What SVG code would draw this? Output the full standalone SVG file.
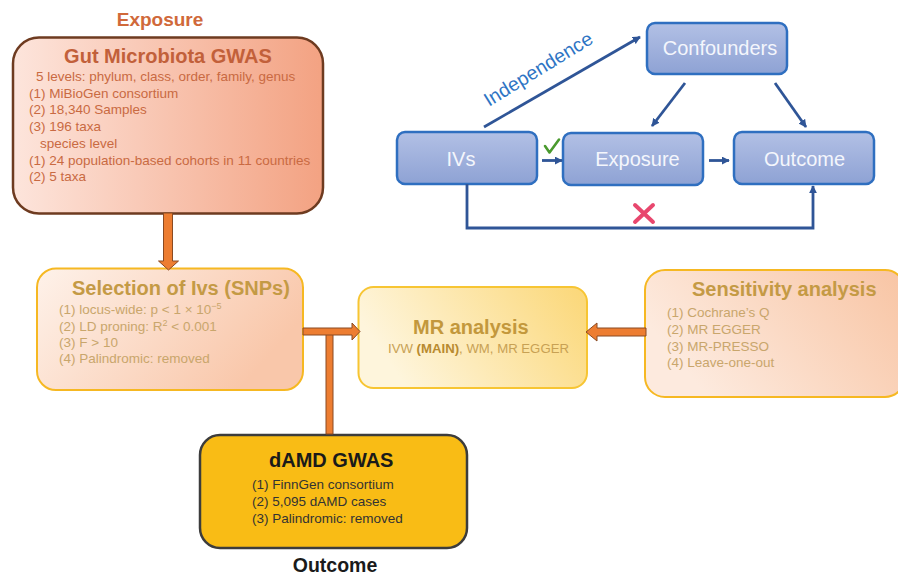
<svg xmlns="http://www.w3.org/2000/svg" width="898" height="576" viewBox="0 0 898 576">
  <defs>
    <linearGradient id="gGut" x1="0" y1="0" x2="1" y2="0">
      <stop offset="0" stop-color="#fde5dc"/>
      <stop offset="1" stop-color="#f3a282"/>
    </linearGradient>
    <linearGradient id="gSel" x1="0" y1="0" x2="1" y2="0.4">
      <stop offset="0" stop-color="#fef2ea"/>
      <stop offset="1" stop-color="#f9c7aa"/>
    </linearGradient>
    <linearGradient id="gMR" x1="0" y1="0.3" x2="1" y2="0">
      <stop offset="0" stop-color="#fef5dc"/>
      <stop offset="1" stop-color="#fbd777"/>
    </linearGradient>
    <linearGradient id="gSens" x1="0" y1="0.4" x2="1" y2="0">
      <stop offset="0" stop-color="#fdeade"/>
      <stop offset="1" stop-color="#f8c4a3"/>
    </linearGradient>
    <linearGradient id="gBlue" x1="0" y1="0" x2="0" y2="1">
      <stop offset="0" stop-color="#b2c0e5"/>
      <stop offset="1" stop-color="#8ea2d4"/>
    </linearGradient>
    <marker id="ah" viewBox="0 0 10 10" refX="9" refY="5" markerWidth="8" markerHeight="8" markerUnits="userSpaceOnUse" orient="auto">
      <path d="M0,0 L10,5 L0,10 z" fill="#2f5597"/>
    </marker>
    <style>
      .sans { font-family: "Liberation Sans", Arial, sans-serif; }
      .blk { fill: #ed7d31; stroke: #8a4a22; stroke-width: 1; }
      .ln { fill: none; stroke: #2f5597; stroke-width: 2.8; marker-end: url(#ah); }
      .bbox { fill: url(#gBlue); stroke: #2f6fc0; stroke-width: 2.5; }
      .btxt { font-size: 20px; fill: #f4f6fc; }
      .item { font-size: 13.5px; }
      .ttl { font-size: 20px; font-weight: bold; }
      .gut { fill: #c96a42; }
      .gutt { fill: #c2603a; }
      .gold { fill: #c49a45; }
      .goldi { fill: #c9a66c; }
    </style>
  </defs>

  <!-- left-hand flow -->
  <text class="sans" x="160" y="26" text-anchor="middle" font-size="19" font-weight="bold" fill="#d0693a">Exposure</text>

  <g id="gut-gwas" class="sans">
    <rect x="13" y="37.5" width="310" height="176" rx="26" fill="url(#gGut)" stroke="#6e3b20" stroke-width="2.5"/>
    <text class="ttl gutt" x="168" y="62.5" text-anchor="middle">Gut Microbiota GWAS</text>
    <text class="item gut" x="36" y="81">5 levels: phylum, class, order, family, genus</text>
    <text class="item gut" x="29" y="97.5">(1)  MiBioGen consortium</text>
    <text class="item gut" x="29" y="114.3">(2) 18,340 Samples</text>
    <text class="item gut" x="29" y="131">(3) 196 taxa</text>
    <text class="item gut" x="40" y="147.8">species level</text>
    <text class="item gut" x="29" y="164.6">(1) 24 population-based cohorts in 11 countries</text>
    <text class="item gut" x="29" y="181.4">(2) 5 taxa</text>
  </g>

  <g id="selection" class="sans">
    <rect x="37" y="268.5" width="266" height="121.5" rx="19" fill="url(#gSel)" stroke="#f6b822" stroke-width="2"/>
    <text class="ttl gold" x="72" y="294.5">Selection of Ivs (SNPs)</text>
    <text class="item goldi" x="59" y="314">(1) locus-wide: p &lt; 1 × 10<tspan dy="-5" font-size="9">−5</tspan></text>
    <text class="item goldi" x="59" y="330.5">(2) LD proning: R<tspan dy="-5" font-size="9">2</tspan><tspan dy="5"> &lt; 0.001</tspan></text>
    <text class="item goldi" x="59" y="346.5">(3) F &gt; 10</text>
    <text class="item goldi" x="59" y="362.5">(4) Palindromic: removed</text>
  </g>

  <g id="mr-analysis" class="sans">
    <rect x="358.5" y="287" width="228.5" height="101" rx="15" fill="url(#gMR)" stroke="#f7c533" stroke-width="2"/>
    <text class="ttl" x="413" y="333.5" fill="#c3983c" font-size="19.5">MR analysis</text>
    <text x="388" y="353" font-size="13.2" fill="#c8a154">IVW <tspan font-weight="bold" fill="#b88a2f">(MAIN)</tspan>, WM, MR EGGER</text>
  </g>

  <g id="sensitivity" class="sans">
    <rect x="645" y="270" width="260" height="127" rx="20" fill="url(#gSens)" stroke="#f6b822" stroke-width="2"/>
    <text class="ttl gold" x="692" y="296" font-size="19.5">Sensitivity analysis</text>
    <text class="item goldi" x="667" y="316.5">(1) Cochrane’s Q</text>
    <text class="item goldi" x="667" y="333.5">(2) MR EGGER</text>
    <text class="item goldi" x="667" y="350.5">(3) MR-PRESSO</text>
    <text class="item goldi" x="667" y="367">(4) Leave-one-out</text>
  </g>

  <g id="damd-gwas" class="sans">
    <rect x="200" y="435" width="267" height="113" rx="20" fill="#f9bc15" stroke="#3c3c3c" stroke-width="2.5"/>
    <text class="ttl" x="269" y="467" fill="#1a1a1a">dAMD GWAS</text>
    <text class="item" x="252" y="489" fill="#333333">(1) FinnGen consortium</text>
    <text class="item" x="252" y="506" fill="#333333">(2) 5,095 dAMD cases</text>
    <text class="item" x="252" y="523" fill="#333333">(3) Palindromic: removed</text>
  </g>

  <text class="sans" x="335" y="572" text-anchor="middle" font-size="19.5" font-weight="bold" fill="#1a1a1a">Outcome</text>

  <!-- block arrows of the flow -->
  <g id="flow-connectors">
    <polygon class="blk" points="163.5,213 172.5,213 172.5,261 178.5,261 168.5,270 158.5,261 163.5,261"/>
    <polygon class="blk" points="326,334 333,334 333,434 326,434"/>
    <polygon class="blk" points="303,328 352,328 352,323 360,331.5 352,340 352,335 303,335"/>
    <polygon class="blk" points="646,328 597,328 597,323 586,332 597,341 597,336 646,336"/>
  </g>

  <!-- causal diagram -->
  <g id="confounders" class="sans">
    <rect class="bbox" x="647" y="23" width="140" height="51" rx="8"/>
    <text class="btxt" x="720" y="55" text-anchor="middle">Confounders</text>
  </g>
  <g id="ivs" class="sans">
    <rect class="bbox" x="397" y="132" width="140" height="52" rx="8"/>
    <text class="btxt" x="461" y="166" text-anchor="middle">IVs</text>
  </g>
  <g id="exposure" class="sans">
    <rect class="bbox" x="563" y="133" width="140" height="52" rx="8"/>
    <text class="btxt" x="637.5" y="166" text-anchor="middle">Exposure</text>
  </g>
  <g id="outcome" class="sans">
    <rect class="bbox" x="734" y="132" width="140" height="52" rx="8"/>
    <text class="btxt" x="804.5" y="166" text-anchor="middle">Outcome</text>
  </g>

  <g id="causal-connectors">
    <path class="ln" d="M484,127 L640,37"/>
    <path class="ln" d="M685,83 L652,126"/>
    <path class="ln" d="M775,83 L806,127"/>
    <path class="ln" d="M542,160.5 L562,160.5"/>
    <path class="ln" d="M709,160.5 L729,160.5"/>
    <path class="ln" d="M467,184 V228 H813 V186"/>
    <text class="sans" x="489" y="107" font-size="19.5" fill="#2e74c4" transform="rotate(-31.5 489 107)">Independence</text>
    <path d="M545,146 L549.5,152.5 L559,139.5" fill="none" stroke="#4a9a2e" stroke-width="2.6" stroke-linecap="round" stroke-linejoin="round"/>
    <path d="M635,205 L653,222 M653,205 L635,222" fill="none" stroke="#e8476e" stroke-width="4" stroke-linecap="round"/>
  </g>
</svg>
